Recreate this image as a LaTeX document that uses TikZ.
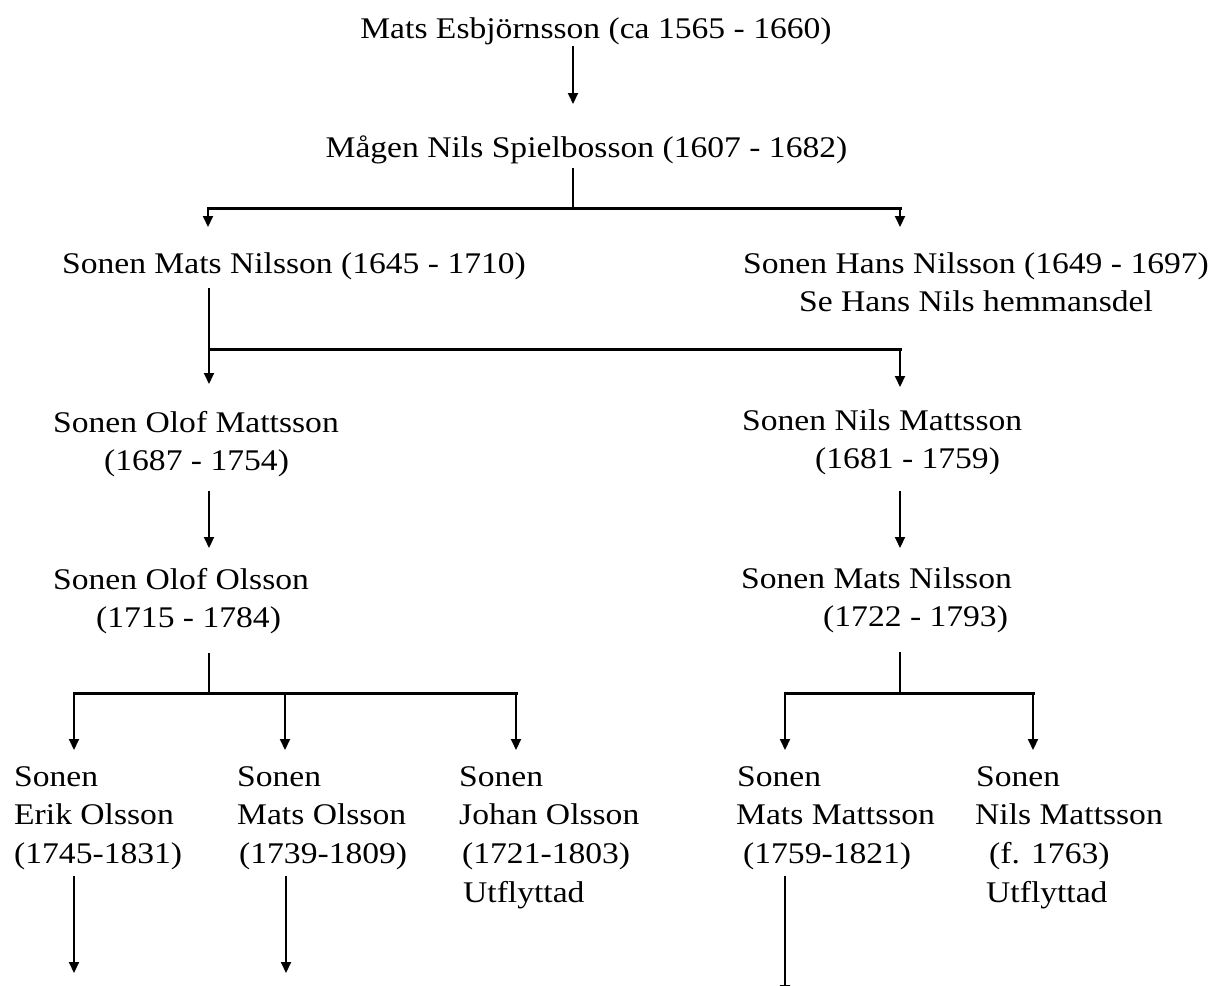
\documentclass[tikz,border=0pt]{standalone}
\usepackage{fontspec}
\setmainfont{Liberation Serif}[FakeStretch=1.12]
\usetikzlibrary{arrows.meta}
\newcommand\famrows[1]{\begin{tabular}[t]{@{}l@{}}#1\end{tabular}}
\begin{document}
\begin{tikzpicture}[x=1pt,y=-1pt,
  every node/.style={inner sep=0pt,font=\fontsize{30}{38.7}\selectfont},
  person/.style={anchor=base west},
  centred/.style={anchor=base},
  stem/.style={line width=2pt},
  bar/.style={line width=3pt,line cap=rect},
  arr/.style={line width=2pt,-{Triangle[length=11pt,width=10pt]}}]
\useasboundingbox (0,0) rectangle (1217,985);

% nodes
\node[centred] (top) at (596,38) {Mats Esbjörnsson (ca 1565 - 1660)};
\node[centred] (magen) at (586.5,157) {Mågen Nils Spielbosson (1607 - 1682)};
\node[centred] (matsN) at (294,273) {Sonen Mats Nilsson (1645 - 1710)};
\node[person] (hans) at (743,273) {\famrows{Sonen Hans Nilsson (1649 - 1697)\\\hspace*{56pt}Se Hans Nils hemmansdel}};
\node[person] (olofM) at (53,432) {\famrows{Sonen Olof Mattsson\\\hspace*{51pt}(1687 - 1754)}};
\node[person] (nilsM) at (742,430) {\famrows{Sonen Nils Mattsson\\\hspace*{73pt}(1681 - 1759)}};
\node[person] (olofO) at (53,589) {\famrows{Sonen Olof Olsson\\\hspace*{43pt}(1715 - 1784)}};
\node[person] (matsN2) at (741,588) {\famrows{Sonen Mats Nilsson\\\hspace*{82pt}(1722 - 1793)}};
\node[person] (erik) at (14,786) {\famrows{Sonen\\Erik Olsson\\(1745-1831)}};
\node[person] (matsO) at (237,786) {\famrows{Sonen\\Mats Olsson\\\hspace*{2pt}(1739-1809)}};
\node[person] (johan) at (459,786) {\famrows{Sonen\\Johan Olsson\\\hspace*{3pt}(1721-1803)\\\hspace*{4pt}Utflyttad}};
\node[person] (matsM) at (736,786) {\famrows{\hspace*{1pt}Sonen\\Mats Mattsson\\\hspace*{7pt}(1759-1821)}};
\node[person] (nilsM2) at (975,786) {\famrows{\hspace*{1pt}Sonen\\Nils Mattsson\\\hspace*{14pt}(f. 1763)\\\hspace*{11pt}Utflyttad}};

% connector points
\coordinate (t1) at (573,46);  \coordinate (t2) at (573,104);
\coordinate (m1) at (573,168); \coordinate (m2) at (573,208);
\coordinate (bL1) at (208,208); \coordinate (bR1) at (900,208);
\coordinate (aL1) at (208,227); \coordinate (aR1) at (900,227);
\coordinate (s1) at (209,288); \coordinate (s2) at (209,384);
\coordinate (bL2) at (209,349); \coordinate (bR2) at (900,349);
\coordinate (aR2) at (900,387);
\coordinate (o1) at (209,491); \coordinate (o2) at (209,548);
\coordinate (n1) at (900,491); \coordinate (n2) at (900,548);
\coordinate (oo1) at (209,653); \coordinate (oo2) at (209,693);
\coordinate (bL3) at (74,693); \coordinate (bM3) at (285,693); \coordinate (bR3) at (516,693);
\coordinate (eL3) at (74,750); \coordinate (eM3) at (285,750); \coordinate (eR3) at (516,750);
\coordinate (nn1) at (900,652); \coordinate (nn2) at (900,693);
\coordinate (bL4) at (785,693); \coordinate (bR4) at (1033,693);
\coordinate (eL4) at (785,750); \coordinate (eR4) at (1033,750);
\coordinate (d1a) at (74,876); \coordinate (d1b) at (74,973);
\coordinate (d2a) at (286,876); \coordinate (d2b) at (286,973);
\coordinate (d4a) at (785,876); \coordinate (d4b) at (785,996);

% connectors
\draw[arr] (t1) -- (t2);
\draw[stem] (m1) -- (m2);
\draw[bar] (bL1) -- (bR1);
\draw[arr] (bL1) -- (aL1);
\draw[arr] (bR1) -- (aR1);

\draw[arr] (s1) -- (s2);
\draw[bar] (bL2) -- (bR2);
\draw[arr] (bR2) -- (aR2);

\draw[arr] (o1) -- (o2);
\draw[arr] (n1) -- (n2);

\draw[stem] (oo1) -- (oo2);
\draw[bar] (bL3) -- (bR3);
\draw[arr] (bL3) -- (eL3);
\draw[arr] (bM3) -- (eM3);
\draw[arr] (bR3) -- (eR3);

\draw[stem] (nn1) -- (nn2);
\draw[bar] (bL4) -- (bR4);
\draw[arr] (bL4) -- (eL4);
\draw[arr] (bR4) -- (eR4);

\draw[arr] (d1a) -- (d1b);
\draw[arr] (d2a) -- (d2b);
\draw[arr] (d4a) -- (d4b);
\end{tikzpicture}
\end{document}
